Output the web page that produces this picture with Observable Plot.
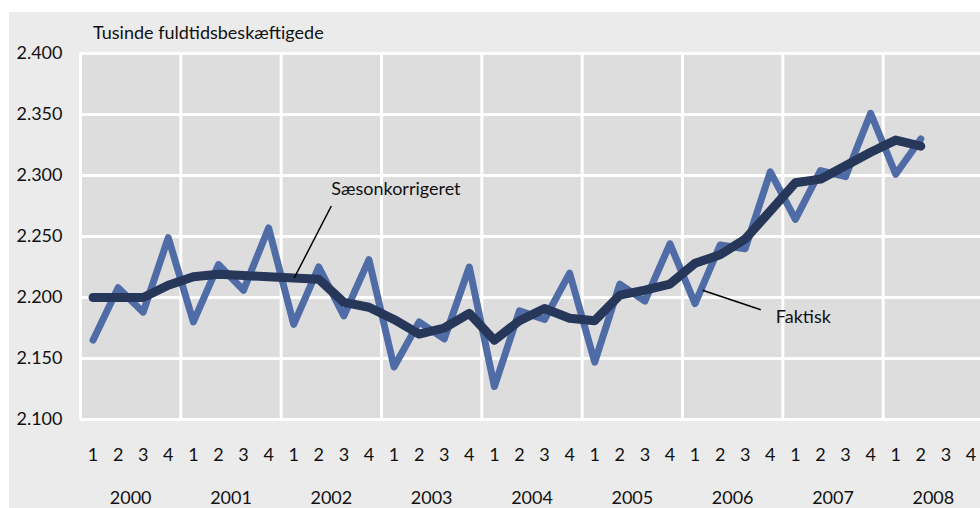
<!DOCTYPE html>
<html>
<head>
<meta charset="utf-8">
<script src="https://cdn.jsdelivr.net/npm/d3@7"></script>
<script src="https://cdn.jsdelivr.net/npm/@observablehq/plot@0.6"></script>
<style>
  html, body { margin: 0; padding: 0; background: #ffffff; overflow: hidden; width: 980px; height: 508px; }
  #panel { position: absolute; left: 9px; top: 12px; width: 971px; height: 496px; background: #ebebeb; overflow: hidden; }
  #title { position: absolute; left: 84px; top: 9px; font-family: Lato, sans-serif; font-size: 18px; color: #111; }
  #panel svg { position: absolute; left: 0; top: 0; }
</style>
</head>
<body>
<div id="panel"><div id="title">Tusinde fuldtidsbeskæftigede</div></div>
<script>
const years = [2000, 2001, 2002, 2003, 2004, 2005, 2006, 2007, 2008];
const quarterLabels = ["1", "2", "3", "4"];
const yTicks = [2100, 2150, 2200, 2250, 2300, 2350, 2400];
const yTickLabels = ["2.100", "2.150", "2.200", "2.250", "2.300", "2.350", "2.400"];

// 2000K1 .. 2008K2
const faktisk = [
  2165, 2208, 2188, 2249,
  2180, 2227, 2206, 2257,
  2178, 2225, 2185, 2231,
  2143, 2180, 2166, 2225,
  2127, 2189, 2182, 2220,
  2147, 2211, 2197, 2244,
  2195, 2243, 2240, 2303,
  2264, 2304, 2299, 2351,
  2301, 2330
];
const saeson = [
  2200, 2200, 2200, 2210,
  2217, 2219, 2218, 2217,
  2216, 2215, 2196, 2192,
  2182, 2170, 2175, 2187,
  2165, 2181, 2191, 2183,
  2181, 2202, 2206, 2211,
  2228, 2235, 2248, 2271,
  2294, 2297, 2308, 2319,
  2329, 2324
];

const annotations = [
  {label: "Sæsonkorrigeret", tx: 2002.50, ty: 2289, x1: 2002.50, y1: 2275, x2: 2002.13, y2: 2216},
  {label: "Faktisk", tx: 2006.93, ty: 2184, x1: 2006.78, y1: 2190, x2: 2006.20, y2: 2206}
];

const pos = i => years[Math.floor(i / 4)] + ((i % 4) + 0.5) / 4;
const faktiskData = faktisk.map((v, i) => ({x: pos(i), y: v}));
const saesonData = saeson.map((v, i) => ({x: pos(i), y: v}));
const quarterTicks = [];
years.forEach(yr => quarterLabels.forEach((q, j) => quarterTicks.push({x: yr + (j + 0.5) / 4, label: q})));
const yearBounds = years.concat([years[years.length - 1] + 1]);

const font = "Lato, sans-serif";

const chart = Plot.plot({
  width: 971,
  height: 496,
  marginLeft: 71,
  marginRight: 0,
  marginTop: 41,
  marginBottom: 89,
  style: {background: "transparent", fontFamily: font, overflow: "hidden"},
  x: {domain: [2000, 2009], range: [71, 974], axis: null},
  y: {domain: [2100, 2400], axis: null},
  marks: [
    Plot.rect([{}], {x1: 2000, x2: 2009, y1: 2100, y2: 2400, fill: "#dddddd"}),
    Plot.ruleY(yTicks, {stroke: "#ffffff", strokeWidth: 3}),
    Plot.ruleX(yearBounds, {y1: 2100, y2: 2400, stroke: "#ffffff", strokeWidth: 3}),
    Plot.text(yTicks, {x: 2000, y: d => d, text: (d, i) => yTickLabels[i], textAnchor: "end", dx: -18, fontSize: 18, fill: "#111"}),
    Plot.text(quarterTicks, {x: "x", text: "label", frameAnchor: "bottom", lineAnchor: "middle", dy: 36, fontSize: 18, fill: "#111"}),
    Plot.text(years, {x: d => d + 0.5, text: d => String(d), frameAnchor: "bottom", lineAnchor: "middle", dy: 79, fontSize: 18, fill: "#111"}),
    Plot.line(faktiskData, {x: "x", y: "y", stroke: "#4f6ca6", strokeWidth: 7, strokeLinejoin: "round", strokeLinecap: "round"}),
    Plot.line(saesonData, {x: "x", y: "y", stroke: "#27375a", strokeWidth: 9, strokeLinejoin: "round", strokeLinecap: "round"}),
    Plot.link(annotations, {x1: "x1", y1: "y1", x2: "x2", y2: "y2", stroke: "#000", strokeWidth: 1.5}),
    Plot.text(annotations, {x: "tx", y: "ty", text: "label", textAnchor: "start", fontSize: 18, fill: "#111"})
  ]
});
document.getElementById("panel").appendChild(chart);
</script>
</body>
</html>
